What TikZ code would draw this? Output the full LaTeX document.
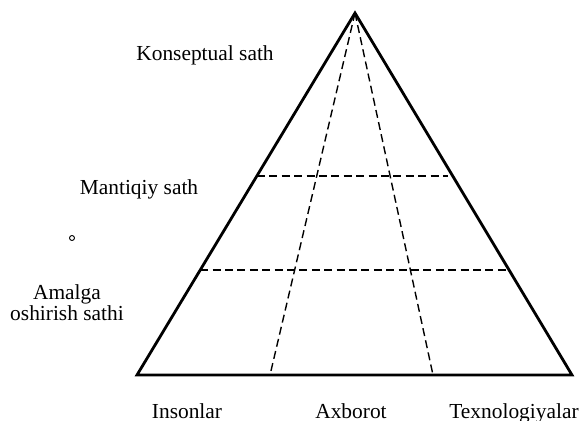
\documentclass[tikz,border=0pt]{standalone}
\usepackage{fontspec}
\setmainfont{Liberation Serif}
\RequirePackage{tikz}
\usetikzlibrary{calc}

\begin{document}
\begin{tikzpicture}[x=0.5pt, y=-0.5pt,
  edge/.style={line width=1.4pt, line join=miter},
  divider/.style={line width=0.7pt, dash pattern=on 4pt off 2.2pt},
  levelname/.style={inner sep=0pt, anchor=base, align=center, font=\fontsize{10.7}{10.5}\selectfont}]
  \useasboundingbox (0,0) rectangle (582,421);
  \coordinate (apex) at (355,13);
  \coordinate (left) at (137,375);
  \coordinate (right) at (572,375);
  \coordinate (foot1) at (270,375);
  \coordinate (foot2) at (433,375);
  % dashed divisions
  \draw[divider] (apex) -- (foot1);
  \draw[divider] (apex) -- (foot2);
  \draw[divider, shorten >=2.5pt] ($(apex)!0.45!(left)$) -- ($(apex)!0.45!(right)$);
  \draw[divider] ($(apex)!0.71!(left)$) -- ($(apex)!0.71!(right)$);
  \draw[edge] (left) -- (apex) -- (right) -- cycle;
  % levels
  \node[levelname] (konseptual) at (205,61) {Konseptual sath};
  \node[levelname] (mantiqiy) at (139,195) {Mantiqiy sath};
  \node[levelname] (amalga) at (67,321) {Amalga\\oshirish sathi};
  \node[circle, draw, inner sep=0pt, minimum size=2.5pt, line width=0.45pt] (dot) at (72,238) {};
  % columns
  \node[levelname] (insonlar) at (187,418) {Insonlar};
  \node[levelname] (axborot) at (351,418) {Axborot};
  \node[levelname] (texnologiyalar) at (514,418) {Texnologiyalar};
\end{tikzpicture}
\end{document}
